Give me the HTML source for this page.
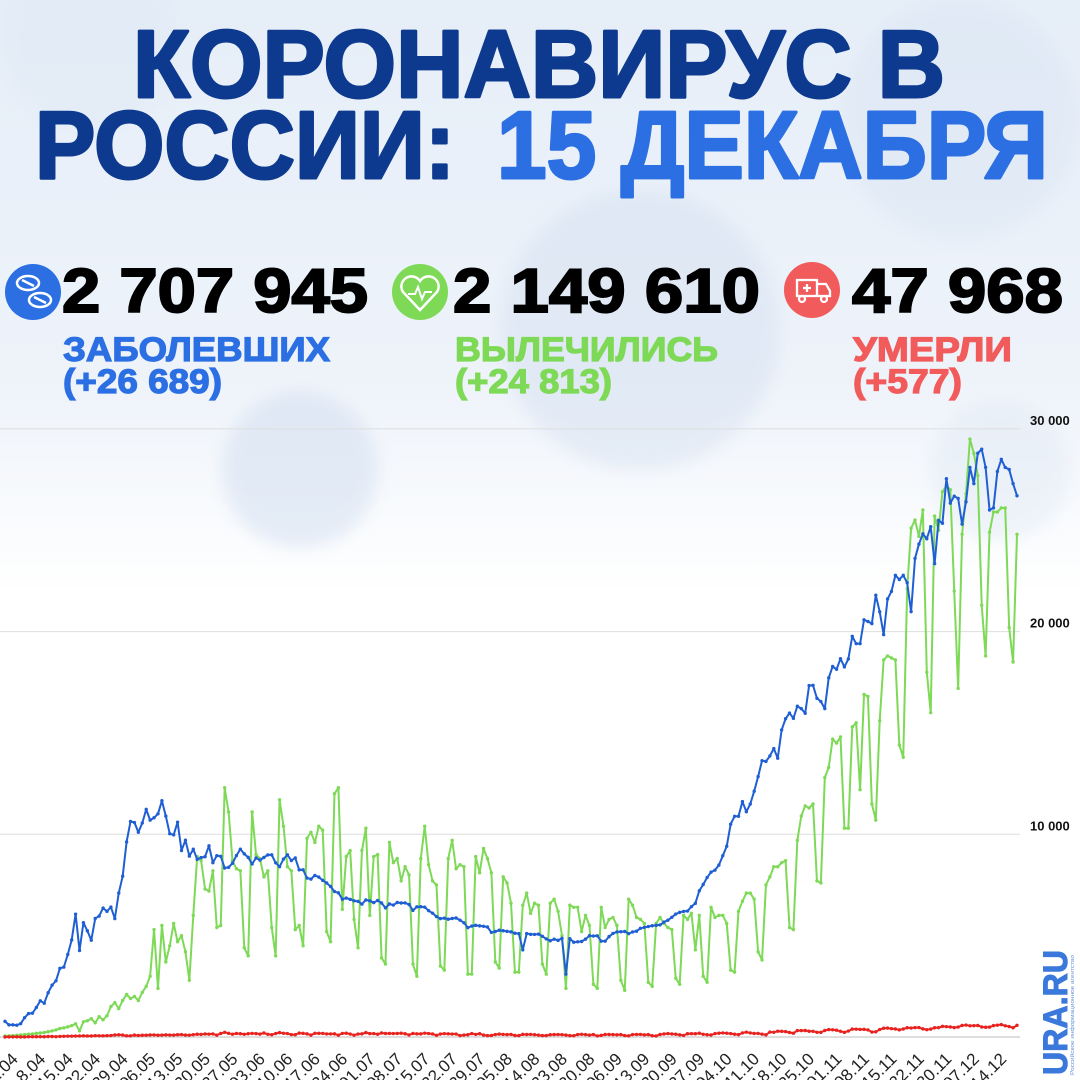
<!DOCTYPE html>
<html><head><meta charset="utf-8">
<style>
html,body{margin:0;padding:0;background:#fff;}
svg{display:block;font-family:"Liberation Sans","DejaVu Sans",sans-serif;}
</style></head>
<body>
<svg id="chart" width="1080" height="1080" viewBox="0 0 1080 1080" xmlns="http://www.w3.org/2000/svg">
<defs>
<linearGradient id="bg" x1="0" y1="0" x2="0" y2="1">
<stop offset="0" stop-color="#e6eef8"/><stop offset="0.35" stop-color="#eef3fa"/><stop offset="0.55" stop-color="#ffffff"/><stop offset="1" stop-color="#ffffff"/>
</linearGradient>
<filter id="blur"><feGaussianBlur stdDeviation="8"/></filter>
</defs>
<rect x="0" y="0" width="1080" height="1080" fill="url(#bg)"/>
<g filter="url(#blur)" opacity="0.4">
<circle cx="640" cy="330" r="140" fill="#cfdcee"/>
<circle cx="300" cy="470" r="78" fill="#c6d6ec"/>
<circle cx="960" cy="120" r="120" fill="#d8e3f2"/>
<circle cx="90" cy="40" r="90" fill="#dfe8f4"/>
<circle cx="1000" cy="470" r="70" fill="#dde7f3"/>
</g>

<g font-weight="bold" stroke-linejoin="round">
<text x="133" y="97" font-size="96" textLength="812" lengthAdjust="spacingAndGlyphs" fill="#0d3a8e" stroke="#0d3a8e" stroke-width="3">КОРОНАВИРУС В</text>
<text x="35" y="178" font-size="96" textLength="420" lengthAdjust="spacingAndGlyphs" fill="#0d3a8e" stroke="#0d3a8e" stroke-width="3">РОССИИ:</text>
<text x="497" y="178" font-size="96" textLength="551" lengthAdjust="spacingAndGlyphs" fill="#2b6fe3" stroke="#2b6fe3" stroke-width="3">15 ДЕКАБРЯ</text>
</g>

<g font-weight="bold">
<circle cx="33" cy="292" r="28" fill="#2b6fe3"/>
<g fill="none" stroke="#fff" stroke-width="2.5"><ellipse cx="28" cy="283" rx="11" ry="7"/><ellipse cx="40" cy="300" rx="11" ry="7"/><line x1="22" y1="280" x2="34" y2="286"/><line x1="34" y1="297" x2="46" y2="303"/></g>
<text x="62" y="312" font-size="62" textLength="306" lengthAdjust="spacingAndGlyphs" fill="#000" stroke="#000" stroke-width="2">2 707 945</text>
<text x="63" y="361" font-size="34" textLength="267" lengthAdjust="spacingAndGlyphs" fill="#2b6fe3" stroke="#2b6fe3" stroke-width="1.2">ЗАБОЛЕВШИХ</text>
<text x="63" y="393" font-size="34" textLength="159" lengthAdjust="spacingAndGlyphs" fill="#2b6fe3" stroke="#2b6fe3" stroke-width="1.2">(+26 689)</text>
</g>
<g font-weight="bold">
<circle cx="420" cy="292" r="28" fill="#7ed957"/>
<path d="M420 310 L403 292 A9 9 0 0 1 420 281 A9 9 0 0 1 437 292 Z" fill="none" stroke="#fff" stroke-width="2.5"/>
<polyline points="408,294 415,294 418,287 422,299 425,292 432,292" fill="none" stroke="#fff" stroke-width="2"/>
<text x="453" y="312" font-size="62" textLength="307" lengthAdjust="spacingAndGlyphs" fill="#000" stroke="#000" stroke-width="2">2 149 610</text>
<text x="455" y="361" font-size="34" textLength="263" lengthAdjust="spacingAndGlyphs" fill="#7ed957" stroke="#7ed957" stroke-width="1.2">ВЫЛЕЧИЛИСЬ</text>
<text x="455" y="393" font-size="34" textLength="157" lengthAdjust="spacingAndGlyphs" fill="#7ed957" stroke="#7ed957" stroke-width="1.2">(+24 813)</text>
</g>
<g font-weight="bold">
<circle cx="812" cy="290" r="28" fill="#f25b5b"/>
<g fill="none" stroke="#fff" stroke-width="2.3"><rect x="797" y="280" width="20" height="16"/><path d="M817 284 L826 284 L830 291 L830 296 L817 296"/><circle cx="802" cy="299" r="3"/><circle cx="824" cy="299" r="3"/><line x1="807" y1="284" x2="807" y2="292"/><line x1="803" y1="288" x2="811" y2="288"/></g>
<text x="852" y="312" font-size="62" textLength="211" lengthAdjust="spacingAndGlyphs" fill="#000" stroke="#000" stroke-width="2">47 968</text>
<text x="853" y="361" font-size="34" textLength="159" lengthAdjust="spacingAndGlyphs" fill="#f25b5b" stroke="#f25b5b" stroke-width="1.2">УМЕРЛИ</text>
<text x="853" y="393" font-size="34" textLength="109" lengthAdjust="spacingAndGlyphs" fill="#f25b5b" stroke="#f25b5b" stroke-width="1.2">(+577)</text>
</g>

<g id="grid"></g>
<g id="yaxis"></g>
<g id="xaxis"></g>
<g id="series"></g>

<text transform="translate(1067,1075) rotate(-90)" font-size="34" font-weight="bold" textLength="125" lengthAdjust="spacingAndGlyphs" fill="#3a78dc" stroke="#3a78dc" stroke-width="1">URA.RU</text>
<text transform="translate(1074,1075) rotate(-90)" font-size="5" textLength="120" lengthAdjust="spacingAndGlyphs" fill="#6a95d8">Российское информационное агентство</text>
</svg>
<script>
const yTicks = [10000, 20000, 30000];
const yTickLabels = ["10 000", "20 000", "30 000"];
const xTickLabels = ["1.04","8.04","15.04","22.04","29.04","06.05","13.05","20.05","27.05","03.06","10.06","17.06","24.06","01.07","08.07","15.07","22.07","29.07","05.08","14.08","23.08","30.08","06.09","13.09","20.09","27.09","04.10","11.10","18.10","25.10","01.11","08.11","15.11","22.11","30.11","07.12","14.12"];
const casesValues = [771,601,601,582,658,954,1154,1175,1459,1786,1667,2186,2558,2774,3388,3448,4070,4785,6060,4268,5642,5236,4774,5849,5966,6361,6198,6411,5841,7099,
7933,9623,10633,10581,10102,10559,11231,10699,10817,11012,11656,10899,10028,9974,10598,9200,9709,8926,9263,8764,8849,8894,9434,8599,8946,8915,8338,8371,8572,8952,9268,
9035,8863,8536,8831,8726,8855,8984,8985,8595,8404,8779,8987,8706,8835,8246,8248,7843,7790,7972,7889,7728,7600,7425,7176,7113,6800,6852,6791,6719,6693,
6556,6760,6718,6632,6736,6611,6368,6562,6509,6635,6611,6615,6537,6248,6422,6428,6406,6234,6109,5940,5842,5862,5811,5848,5871,5765,5635,5395,5475,5509,5482,
5462,5427,5159,5204,5267,5241,5212,5189,5118,5102,4300,5102,5065,5061,5076,4969,4839,4748,4828,4767,4870,3100,4852,4676,4696,4711,4829,4995,4980,4993,4729,
4729,4952,5110,5185,5195,5205,5099,5185,5218,5363,5406,5449,5488,5509,5529,5670,5762,5905,6065,6148,6196,6215,6431,6595,7212,7523,7867,8135,8232,8481,
8945,9412,10499,10888,10888,11615,11115,11493,12126,12846,13634,13592,13868,14231,13754,15150,15700,15982,15722,16319,16202,15971,17340,17347,16710,16550,16202,17717,18283,18140,18665,
18257,18648,19768,19404,19404,20582,20498,20396,21798,20977,19851,21608,21983,22778,22572,22778,22410,20985,23610,24318,24822,24581,25173,23351,25487,25345,27543,26338,26683,26567,
25300,26400,28100,27300,28800,29000,28100,26000,26100,27900,28500,28100,28000,27300,26700];
const recoveredValues = [50,60,70,80,100,120,140,150,180,200,220,260,300,350,
420,450,500,560,650,300,750,800,900,700,1000,850,1050,1500,1700,1400,
1800,2100,1900,2000,1800,2200,
2500,3000,5300,2400,5500,3700,4500,5600,4700,5000,4200,2800,6000,8900,8700,7300,7200,8200,5400,5500,12300,11100,8700,8300,8200,
4400,4000,11100,9000,8800,7900,8200,5400,4000,
11700,10400,8400,8200,5300,5500,4500,9800,10100,9600,10400,10200,5200,4700,12000,12300,6300,8900,9200,5800,4400,9200,10300,6000,8900,9000,3900,3600,9600,8600,8800,7700,8400,
8000,3600,3000,8800,10400,8500,7700,7500,3500,3300,8800,9700,8300,8500,8400,3100,3100,8900,8100,9300,8800,8100,3700,3400,7900,7600,6600,3200,3200,6500,7100,6100,6600,6500,3600,3100,6600,6800,6200,5000,2400,6500,6400,6400,5200,6000,5500,2600,2400,6400,5400,5800,5900,5500,2800,2300,6800,6500,5900,5800,5600,2700,2500,5600,5900,5600,5400,5300,2900,2600,6000,5800,6100,4300,6000,3000,2700,6400,5900,6000,6000,5600,3300,3200,6200,6700,7100,7100,6800,4200,3800,7500,7900,8400,8400,8600,8700,5400,5300,9700,10900,11400,11300,11500,7700,7600,12800,13300,14700,14500,14800,10300,10300,15300,15500,12200,16900,16800,11500,10700,15600,18600,18800,18700,18600,14400,13800,22100,25100,25500,24700,26000,18000,16000,25700,25000,26900,27200,27000,22000,17200,24800,26800,29500,28800,27700,21300,18800,24900,25900,25900,26100,26100,20200,18500,24800];
const deathsValues = [2,4,4,9,2,2,11,13,12,18,12,24,24,18,28,36,41,42,48,51,57,52,49,66,60,58,66,72,101,108,
96,57,58,95,76,86,88,98,104,88,94,107,96,93,113,119,94,92,115,135,127,150,139,153,92,174,232,181,138,174,162,
134,162,178,169,144,197,134,112,171,216,182,171,119,113,194,181,154,94,182,181,176,153,153,154,92,176,188,147,91,147,
154,216,168,168,135,198,173,174,171,174,188,161,104,175,154,154,189,171,150,85,147,165,157,147,146,70,96,111,169,129,161,
95,70,77,122,144,129,119,129,77,70,130,123,129,114,94,68,70,114,120,121,116,95,68,64,122,133,117,93,121,55,82,
123,123,117,110,119,69,56,122,125,127,107,117,62,51,124,150,169,150,135,106,78,160,165,160,186,134,114,98,168,186,
201,186,169,135,117,202,239,201,174,176,140,107,244,232,286,279,265,222,186,317,317,320,283,282,232,229,320,366,355,334,282,
230,294,389,386,374,378,349,245,256,368,432,439,411,395,353,395,456,442,463,467,401,361,391,456,462,524,510,496,464,491,
569,589,554,560,569,496,481,488,561,584,613,552,517,456,577];

const NS = "http://www.w3.org/2000/svg";
const nDays = casesValues.length;
function xScale(i){ return 5 + i * (1012 / (nDays - 1)); }
function yScale(v){ return 1037 - v * 0.02027; }

const grid = document.getElementById('grid');
const base = document.createElementNS(NS,'line');


base.setAttribute('x1',0); base.setAttribute('x2',1020);
base.setAttribute('y1',yScale(0)); base.setAttribute('y2',yScale(0));
base.setAttribute('stroke','#bdbdbd'); base.setAttribute('stroke-width','1');
grid.appendChild(base);

const yaxis = document.getElementById('yaxis');
yTicks.forEach((t,k)=>{
  const l = document.createElementNS(NS,'line');
  
  
  l.setAttribute('x1',0); l.setAttribute('x2',1020);
  l.setAttribute('y1',yScale(t)); l.setAttribute('y2',yScale(t));
  l.setAttribute('stroke','#dedede'); l.setAttribute('stroke-width','1');
  grid.appendChild(l);
  const tx = document.createElementNS(NS,'text');
  
  
  tx.setAttribute('x',1030); tx.setAttribute('y',yScale(t)-4);
  tx.setAttribute('font-size','13'); tx.setAttribute('font-weight','bold');
  tx.setAttribute('fill','#111');
  tx.textContent = yTickLabels[k];
  yaxis.appendChild(tx);
});

const xaxis = document.getElementById('xaxis');
xTickLabels.forEach((lab,k)=>{
  const x = xScale(k*7) + 14;
  const tx = document.createElementNS(NS,'text');
  
  
  tx.setAttribute('transform','translate('+x+',1060) rotate(-45)');
  tx.setAttribute('text-anchor','end');
  tx.setAttribute('font-size','17');
  tx.setAttribute('fill','#222');
  tx.textContent = lab;
  xaxis.appendChild(tx);
});

const seriesG = document.getElementById('series');
function drawSeries(vals, color, name){
  const g = document.createElementNS(NS,'g');
  
  
  const pts = vals.map((v,i)=> xScale(i).toFixed(2)+','+yScale(v).toFixed(2)).join(' ');
  const pl = document.createElementNS(NS,'polyline');
  
  
  pl.setAttribute('points', pts);
  pl.setAttribute('fill','none'); pl.setAttribute('stroke',color);
  pl.setAttribute('stroke-width','2'); pl.setAttribute('stroke-linejoin','round');
  g.appendChild(pl);
  vals.forEach((v,i)=>{
    const c = document.createElementNS(NS,'circle');
    
    
    c.setAttribute('cx', xScale(i).toFixed(2)); c.setAttribute('cy', yScale(v).toFixed(2));
    c.setAttribute('r','1.7'); c.setAttribute('fill',color);
    g.appendChild(c);
  });
  seriesG.appendChild(g);
}
drawSeries(recoveredValues, '#7ed957', 'recovered-series');
drawSeries(casesValues, '#1f5fd3', 'cases-series');
drawSeries(deathsValues, '#e8231f', 'deaths-series');
</script>
</body></html>
